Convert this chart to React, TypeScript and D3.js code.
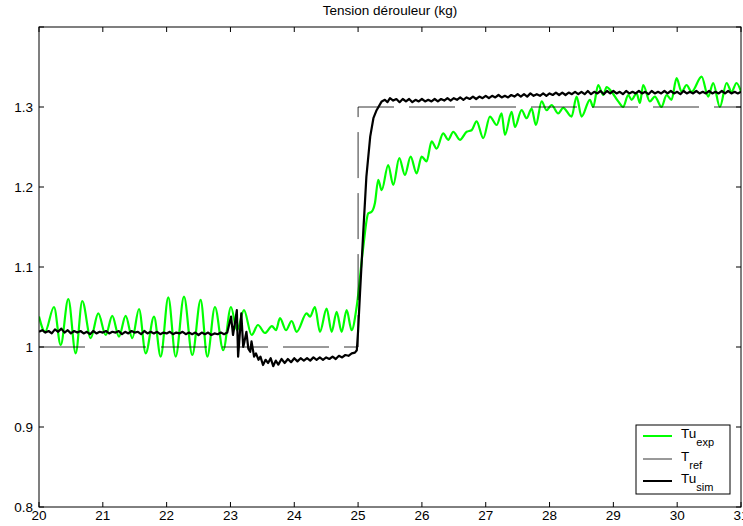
import React from "react";
import * as d3 from "d3";

const W = 743;
const H = 526;

const xTicks = [20, 21, 22, 23, 24, 25, 26, 27, 28, 29, 30, 31];
const yTicks = [0.8, 0.9, 1.0, 1.1, 1.2, 1.3, 1.4];
const yTickLabels = ["0.8", "0.9", "1", "1.1", "1.2", "1.3", ""];

const refT = [20, 25, 25, 31];
const refV = [1.0, 1.0, 1.3, 1.3];

const expT = [
  20.0, 20.094, 20.235, 20.34, 20.459, 20.575, 20.678, 20.81, 20.929, 21.045,
  21.148, 21.253, 21.358, 21.462, 21.567, 21.672, 21.802, 21.907, 22.026, 22.142,
  22.272, 22.402, 22.533, 22.637, 22.757, 22.887, 23.008, 23.102, 23.212, 23.332,
  23.431, 23.541, 23.65, 23.713, 23.776, 23.87, 23.959, 24.037, 24.194, 24.246,
  24.324, 24.402, 24.507, 24.586, 24.664, 24.742, 24.821, 24.899, 24.977, 25.081,
  25.159, 25.212, 25.264, 25.316, 25.369, 25.472, 25.551, 25.645, 25.734, 25.823,
  25.917, 25.996, 26.074, 26.152, 26.231, 26.334, 26.412, 26.491, 26.596, 26.701,
  26.779, 26.857, 26.961, 27.066, 27.171, 27.249, 27.301, 27.406, 27.457, 27.562,
  27.641, 27.719, 27.786, 27.876, 27.954, 28.032, 28.136, 28.214, 28.345, 28.424,
  28.502, 28.632, 28.684, 28.762, 28.841, 28.894, 28.972, 29.076, 29.154, 29.232,
  29.286, 29.364, 29.416, 29.467, 29.572, 29.65, 29.755, 29.833, 29.911, 29.991,
  30.069, 30.147, 30.226, 30.383, 30.486, 30.564, 30.669, 30.774, 30.852, 30.93,
  31.0,
];
const expV = [
  1.038, 1.019, 1.05, 1.0025, 1.06, 0.992, 1.0575, 1.011, 1.042, 1.015,
  1.039, 1.013, 1.039, 1.011, 1.0475, 0.992, 1.038, 0.988, 1.062, 0.988,
  1.063, 0.99, 1.059, 0.988, 1.05, 0.996, 1.05, 1.021, 1.046, 1.015,
  1.0275, 1.0175, 1.026, 1.021, 1.036, 1.021, 1.0325, 1.019, 1.042, 1.038,
  1.05, 1.019, 1.048, 1.019, 1.044, 1.019, 1.046, 1.021, 1.05, 1.125,
  1.167, 1.169, 1.18, 1.209, 1.196, 1.2275, 1.2025, 1.236, 1.215, 1.238,
  1.217, 1.238, 1.232, 1.257, 1.248, 1.267, 1.259, 1.269, 1.259, 1.269,
  1.271, 1.282, 1.261, 1.288, 1.2775, 1.292, 1.265, 1.294, 1.275, 1.296,
  1.286, 1.298, 1.2775, 1.307, 1.296, 1.3025, 1.292, 1.299, 1.288, 1.313,
  1.288, 1.309, 1.3, 1.3275, 1.315, 1.325, 1.319, 1.307, 1.3, 1.315,
  1.309, 1.317, 1.305, 1.3275, 1.307, 1.313, 1.3, 1.315, 1.309, 1.336,
  1.319, 1.3275, 1.319, 1.338, 1.313, 1.33, 1.3, 1.33, 1.319, 1.33,
  1.319,
];

const simT = [
  20.0, 20.05, 20.1, 20.15, 20.2, 20.25, 20.3, 20.35, 20.4, 20.45,
  20.5, 20.55, 20.6, 20.65, 20.7, 20.75, 20.8, 20.85, 20.9, 20.95,
  21.0, 21.05, 21.1, 21.15, 21.2, 21.25, 21.3, 21.35, 21.4, 21.45,
  21.5, 21.55, 21.6, 21.65, 21.7, 21.75, 21.8, 21.85, 21.9, 21.95,
  22.0, 22.05, 22.1, 22.15, 22.2, 22.25, 22.3, 22.35, 22.4, 22.45,
  22.5, 22.55, 22.6, 22.65, 22.7, 22.75, 22.8, 22.85, 22.9,
  22.95, 22.98, 23.01, 23.04, 23.07, 23.1, 23.12, 23.15, 23.17, 23.2,
  23.22, 23.25, 23.28, 23.31, 23.33, 23.37, 23.4, 23.44, 23.47, 23.51,
  23.55, 23.59, 23.63, 23.67, 23.71, 23.75, 23.8, 23.85, 23.9, 23.95,
  24.0, 24.05, 24.1, 24.15, 24.2, 24.25, 24.3, 24.35, 24.4, 24.45,
  24.5, 24.55, 24.6, 24.65, 24.7, 24.75, 24.8, 24.85, 24.9, 24.95,
  24.98, 25.0, 25.03, 25.08, 25.13, 25.19, 25.24, 25.29, 25.37, 25.42,
  25.46, 25.5,
  25.55, 25.6, 25.65, 25.7, 25.75, 25.8, 25.85, 25.9, 25.95, 26.0,
  26.05, 26.1, 26.15, 26.2, 26.25, 26.3, 26.35, 26.4, 26.45, 26.5,
  26.55, 26.6, 26.65, 26.7, 26.75, 26.8, 26.85, 26.9, 26.95, 27.0,
  27.05, 27.1, 27.15, 27.2, 27.25, 27.3, 27.35, 27.4, 27.45, 27.5,
  27.55, 27.6, 27.65, 27.7, 27.75, 27.8, 27.85, 27.9, 27.95, 28.0,
  28.05, 28.1, 28.15, 28.2, 28.25, 28.3, 28.35, 28.4, 28.45, 28.5,
  28.55, 28.6, 28.65, 28.7, 28.75, 28.8, 28.85, 28.9, 28.95, 29.0,
  29.05, 29.1, 29.15, 29.2, 29.25, 29.3, 29.35, 29.4, 29.45, 29.5,
  29.55, 29.6, 29.65, 29.7, 29.75, 29.8, 29.85, 29.9, 29.95, 30.0,
  30.05, 30.1, 30.15, 30.2, 30.25, 30.3, 30.35, 30.4, 30.45, 30.5,
  30.55, 30.6, 30.65, 30.7, 30.75, 30.8, 30.85, 30.9, 30.95, 31.0,
];
const simV = [
  1.019, 1.021, 1.018, 1.02, 1.017, 1.022, 1.019, 1.023, 1.018, 1.021,
  1.017, 1.02, 1.018, 1.02, 1.017, 1.019, 1.016, 1.02, 1.017, 1.019,
  1.018, 1.02, 1.017, 1.019, 1.018, 1.02, 1.016, 1.019, 1.017, 1.02,
  1.018, 1.019, 1.016, 1.02, 1.017, 1.019, 1.017, 1.019, 1.016, 1.018,
  1.017, 1.019, 1.016, 1.018, 1.017, 1.019, 1.016, 1.018, 1.016, 1.018,
  1.015, 1.018, 1.016, 1.018, 1.015, 1.017, 1.016, 1.018, 1.016,
  1.018, 1.028, 1.038, 1.015, 1.03, 1.046, 0.988, 1.02, 1.042, 1.0,
  1.007, 1.019, 0.998, 0.994, 1.007, 0.988, 0.992, 0.984, 0.988, 0.9775,
  0.984, 0.98, 0.986, 0.976, 0.983, 0.978, 0.985, 0.98, 0.985, 0.981,
  0.986, 0.982, 0.986, 0.983, 0.986, 0.983, 0.987, 0.984, 0.987, 0.984,
  0.987, 0.985, 0.988, 0.985, 0.989, 0.987, 0.99, 0.989, 0.992, 0.993,
  0.996, 1.02, 1.067, 1.142, 1.213, 1.263, 1.286, 1.296, 1.307, 1.309,
  1.306, 1.311,
  1.308, 1.31, 1.306, 1.31, 1.307, 1.31, 1.306, 1.309, 1.307, 1.31,
  1.307, 1.309, 1.307, 1.31, 1.307, 1.31, 1.308, 1.311, 1.308, 1.311,
  1.309, 1.312, 1.309, 1.312, 1.31, 1.313, 1.31, 1.313, 1.311, 1.314,
  1.311, 1.314, 1.312, 1.315, 1.312, 1.314, 1.312, 1.315, 1.313, 1.316,
  1.313, 1.316, 1.313, 1.317, 1.314, 1.316, 1.314, 1.317, 1.314, 1.317,
  1.315, 1.318, 1.315, 1.318, 1.315, 1.318, 1.316, 1.319, 1.316, 1.319,
  1.316, 1.32, 1.316, 1.319, 1.317, 1.32, 1.316, 1.32, 1.317, 1.32,
  1.317, 1.319, 1.316, 1.32, 1.317, 1.319, 1.317, 1.32, 1.317, 1.319,
  1.316, 1.32, 1.317, 1.319, 1.317, 1.32, 1.317, 1.32, 1.317, 1.319,
  1.316, 1.32, 1.317, 1.319, 1.317, 1.32, 1.317, 1.319, 1.317, 1.32,
  1.317, 1.319, 1.317, 1.32, 1.317, 1.32, 1.317, 1.319, 1.317, 1.319,
];

const legendItems = [
  { main: "Tu", sub: "exp", color: "#00ff00", width: 2 },
  { main: "T", sub: "ref", color: "#000000", width: 0.8 },
  { main: "Tu", sub: "sim", color: "#000000", width: 2 },
];

const FONT = "'Liberation Sans', Arial, Helvetica, sans-serif";

export default function App() {
  const left = 39, right = 741, top = 27, bottom = 507;
  const x = d3.scaleLinear().domain([20, 31]).range([left, right]);
  const y = d3.scaleLinear().domain([0.8, 1.4]).range([bottom, top]);

  const mk = (ts: number[], vs: number[], curve: d3.CurveFactory) =>
    d3
      .line<number>()
      .x((_, i) => x(ts[i]))
      .y((v) => y(v))
      .curve(curve)(vs) || "";

  const expPath = mk(expT, expV, d3.curveMonotoneX);
  const simPath = mk(simT, simV, d3.curveLinear);
  const refPath = mk(refT, refV, d3.curveLinear);

  const tickLen = 5;
  const lgX = 636, lgY = 425, lgW = 94, lgH = 69;
  const rowY = [436, 459, 481];

  return (
    <svg
      width={W}
      height={H}
      style={{ position: "absolute", left: 0, top: 0, background: "#fff" }}
      fontFamily={FONT}
    >
      <rect x={0} y={0} width={W} height={H} fill="#fff" />
      <defs>
        <clipPath id="plotClip">
          <rect x={left} y={top} width={right - left} height={bottom - top} />
        </clipPath>
      </defs>
      <text x={(left + right) / 2} y={15} textAnchor="middle" fontSize={13.5} fill="#000">
        Tension dérouleur (kg)
      </text>

      <g clipPath="url(#plotClip)">
        <path d={expPath} fill="none" stroke="#00ff00" strokeWidth={2.2} strokeLinejoin="round" />
        <path d={refPath} fill="none" stroke="#000" strokeWidth={0.8} strokeDasharray="46 15" />
        <path d={simPath} fill="none" stroke="#000" strokeWidth={2.2} strokeLinejoin="round" />
      </g>

      <rect x={left} y={top} width={right - left} height={bottom - top} fill="none" stroke="#000" strokeWidth={1} />

      {xTicks.map((t) => (
        <g key={"x" + t}>
          <line x1={x(t)} x2={x(t)} y1={bottom} y2={bottom - tickLen} stroke="#000" />
          <line x1={x(t)} x2={x(t)} y1={top} y2={top + tickLen} stroke="#000" />
          <text x={x(t)} y={520} textAnchor="middle" fontSize={13.5} fill="#000">
            {t}
          </text>
        </g>
      ))}
      {yTicks.map((v, i) => (
        <g key={"y" + v}>
          <line x1={left} x2={left + tickLen} y1={y(v)} y2={y(v)} stroke="#000" />
          <line x1={right} x2={right - tickLen} y1={y(v)} y2={y(v)} stroke="#000" />
          <text x={left - 6} y={y(v)} dy="0.35em" textAnchor="end" fontSize={13.5} fill="#000">
            {yTickLabels[i]}
          </text>
        </g>
      ))}

      <rect x={lgX} y={lgY} width={lgW} height={lgH} fill="#fff" stroke="#000" strokeWidth={1} />
      {legendItems.map((it, i) => (
        <g key={"lg" + i}>
          <line x1={643} x2={672} y1={rowY[i]} y2={rowY[i]} stroke={it.color} strokeWidth={it.width} />
          <text x={681} y={rowY[i] + 2} fontSize={13.5} fill="#000">
            <tspan>{it.main}</tspan>
            <tspan dy={8} fontSize={11}>{it.sub}</tspan>
          </text>
        </g>
      ))}
    </svg>
  );
}
